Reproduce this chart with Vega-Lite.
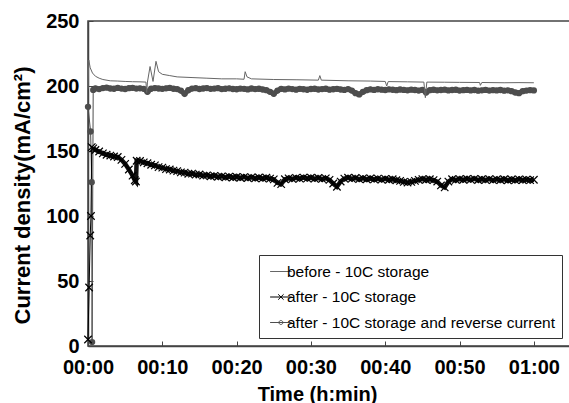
{
  "$schema": "https://vega.github.io/schema/vega-lite/v6.json",
  "width": 483,
  "height": 325,
  "autosize": {"type": "none"},
  "padding": {"left": 88, "top": 21, "right": 0, "bottom": 57},
  "config": {
    "font": "Liberation Sans",
    "view": {"stroke": "#444444", "strokeWidth": 1.5},
    "axis": {"grid": false}
  },
  "data": {"values": [
    {"s":"A","t":0,"v":198},{"s":"A","t":0.1,"v":220},{"s":"A","t":0.3,"v":214},{"s":"A","t":0.6,"v":210},{"s":"A","t":1,"v":207.5},{"s":"A","t":1.5,"v":206},{"s":"A","t":2,"v":205},{"s":"A","t":3,"v":204},{"s":"A","t":4,"v":203.8},{"s":"A","t":5,"v":203.5},{"s":"A","t":6,"v":203.3},{"s":"A","t":7,"v":203.2},{"s":"A","t":7.8,"v":203},{"s":"A","t":7.9,"v":195},{"s":"A","t":8.0,"v":203},{"s":"A","t":8.35,"v":215},{"s":"A","t":8.75,"v":203.5},{"s":"A","t":9.15,"v":219},{"s":"A","t":9.5,"v":211},{"s":"A","t":10,"v":209},{"s":"A","t":11,"v":208},{"s":"A","t":12,"v":207},{"s":"A","t":14,"v":206.5},{"s":"A","t":16,"v":206},{"s":"A","t":18,"v":205.5},{"s":"A","t":20,"v":205.5},{"s":"A","t":21,"v":205.2},{"s":"A","t":21.15,"v":211},{"s":"A","t":21.4,"v":207},{"s":"A","t":22,"v":205.5},{"s":"A","t":25,"v":205},{"s":"A","t":28,"v":204.8},{"s":"A","t":31,"v":204.5},{"s":"A","t":31.2,"v":208},{"s":"A","t":31.4,"v":204.5},{"s":"A","t":35,"v":204},{"s":"A","t":38,"v":203.8},{"s":"A","t":40,"v":203.5},{"s":"A","t":40.2,"v":200},{"s":"A","t":40.4,"v":203.4},{"s":"A","t":43,"v":203.2},{"s":"A","t":45.2,"v":203},{"s":"A","t":45.4,"v":191},{"s":"A","t":45.6,"v":203},{"s":"A","t":48,"v":202.9},{"s":"A","t":50,"v":202.8},{"s":"A","t":52.7,"v":202.7},{"s":"A","t":52.8,"v":200.5},{"s":"A","t":53,"v":202.7},{"s":"A","t":56,"v":202.5},{"s":"A","t":58,"v":202.6},{"s":"A","t":60,"v":202.5},
    {"s":"B","t":0,"v":5},{"s":"B","t":0.15,"v":45},{"s":"B","t":0.3,"v":85},{"s":"B","t":0.4,"v":100},{"s":"B","t":0.5,"v":153},{"s":"B","t":0.7,"v":152},{"s":"B","t":1,"v":150.8},{"s":"B","t":1.5,"v":149.6},{"s":"B","t":2,"v":148.2},{"s":"B","t":2.5,"v":147.1},{"s":"B","t":3,"v":146.5},{"s":"B","t":3.5,"v":145.8},{"s":"B","t":4,"v":145.4},{"s":"B","t":4.5,"v":143.2},{"s":"B","t":5,"v":140.1},{"s":"B","t":5.5,"v":135.8},{"s":"B","t":6,"v":131.0},{"s":"B","t":6.3,"v":127.5},{"s":"B","t":6.45,"v":126.5},{"s":"B","t":6.55,"v":142.5},
    {"s":"B","t":7,"v":142.3},{"s":"B","t":7.5,"v":141.2},{"s":"B","t":8,"v":140.6},{"s":"B","t":8.5,"v":139.4},{"s":"B","t":9,"v":138.9},{"s":"B","t":9.5,"v":137.6},{"s":"B","t":10,"v":137.2},{"s":"B","t":10.5,"v":136.1},{"s":"B","t":11,"v":135.8},{"s":"B","t":11.5,"v":134.9},{"s":"B","t":12,"v":134.5},{"s":"B","t":12.5,"v":133.6},{"s":"B","t":13,"v":133.4},{"s":"B","t":13.5,"v":132.5},{"s":"B","t":14,"v":132.6},{"s":"B","t":14.5,"v":131.8},{"s":"B","t":15,"v":131.9},{"s":"B","t":15.5,"v":131.1},{"s":"B","t":16,"v":131.3},{"s":"B","t":16.5,"v":130.6},{"s":"B","t":17,"v":130.9},{"s":"B","t":17.5,"v":130.2},{"s":"B","t":18,"v":130.5},{"s":"B","t":18.5,"v":129.8},{"s":"B","t":19,"v":130.3},{"s":"B","t":19.5,"v":129.6},{"s":"B","t":20,"v":130.0},{"s":"B","t":20.5,"v":129.4},{"s":"B","t":21,"v":129.9},{"s":"B","t":21.5,"v":129.2},{"s":"B","t":22,"v":129.7},{"s":"B","t":22.5,"v":129.0},{"s":"B","t":23,"v":129.6},{"s":"B","t":23.5,"v":128.9},{"s":"B","t":24,"v":129.4},{"s":"B","t":24.5,"v":128.7},{"s":"B","t":25,"v":128.2},{"s":"B","t":25.5,"v":125.5},{"s":"B","t":26,"v":124.5},{"s":"B","t":26.5,"v":128.3},{"s":"B","t":27,"v":129.0},{"s":"B","t":27.5,"v":128.6},{"s":"B","t":28,"v":129.3},{"s":"B","t":28.5,"v":128.8},{"s":"B","t":29,"v":129.5},{"s":"B","t":29.5,"v":128.9},{"s":"B","t":30,"v":129.4},{"s":"B","t":30.5,"v":128.7},{"s":"B","t":31,"v":129.2},{"s":"B","t":31.5,"v":128.5},{"s":"B","t":32,"v":129.0},{"s":"B","t":32.5,"v":127.8},{"s":"B","t":33,"v":125.0},{"s":"B","t":33.5,"v":122.5},{"s":"B","t":34,"v":126.5},{"s":"B","t":34.5,"v":128.8},{"s":"B","t":35,"v":129.4},{"s":"B","t":35.5,"v":128.7},{"s":"B","t":36,"v":129.2},{"s":"B","t":36.5,"v":128.4},{"s":"B","t":37,"v":129.0},{"s":"B","t":37.5,"v":128.3},{"s":"B","t":38,"v":128.9},{"s":"B","t":38.5,"v":128.2},{"s":"B","t":39,"v":128.7},{"s":"B","t":39.5,"v":128.0},{"s":"B","t":40,"v":128.6},{"s":"B","t":40.5,"v":127.9},{"s":"B","t":41,"v":128.3},{"s":"B","t":41.5,"v":127.5},{"s":"B","t":42,"v":127.0},{"s":"B","t":42.5,"v":126.3},{"s":"B","t":43,"v":125.8},{"s":"B","t":43.5,"v":126.2},{"s":"B","t":44,"v":127.0},{"s":"B","t":44.5,"v":127.8},{"s":"B","t":45,"v":128.4},{"s":"B","t":45.5,"v":127.9},{"s":"B","t":46,"v":128.3},{"s":"B","t":46.5,"v":127.6},{"s":"B","t":47,"v":126.5},{"s":"B","t":47.5,"v":123.5},{"s":"B","t":48,"v":122.0},{"s":"B","t":48.5,"v":126.5},{"s":"B","t":49,"v":128.3},{"s":"B","t":49.5,"v":127.8},{"s":"B","t":50,"v":128.4},{"s":"B","t":50.5,"v":127.9},{"s":"B","t":51,"v":128.5},{"s":"B","t":51.5,"v":128.0},{"s":"B","t":52,"v":128.6},{"s":"B","t":52.5,"v":127.7},{"s":"B","t":53,"v":128.3},{"s":"B","t":53.5,"v":127.8},{"s":"B","t":54,"v":128.4},{"s":"B","t":54.5,"v":127.6},{"s":"B","t":55,"v":128.2},{"s":"B","t":55.5,"v":127.7},{"s":"B","t":56,"v":128.3},{"s":"B","t":56.5,"v":127.5},{"s":"B","t":57,"v":128.1},{"s":"B","t":57.5,"v":127.6},{"s":"B","t":58,"v":128.2},{"s":"B","t":58.5,"v":127.7},{"s":"B","t":59,"v":128.0},{"s":"B","t":59.5,"v":127.6},{"s":"B","t":60,"v":127.9},
    {"s":"C","t":0,"v":184},{"s":"C","t":0.35,"v":165},{"s":"C","t":0.5,"v":126},{"s":"C","t":0.55,"v":3},{"s":"C","t":0.7,"v":197},
    {"s":"C","t":1,"v":198.2},{"s":"C","t":1.5,"v":197.6},{"s":"C","t":2,"v":198.4},{"s":"C","t":2.5,"v":198.8},{"s":"C","t":3,"v":198.1},{"s":"C","t":3.5,"v":197.9},{"s":"C","t":4,"v":198.5},{"s":"C","t":4.5,"v":198.0},{"s":"C","t":5,"v":197.7},{"s":"C","t":5.5,"v":198.3},{"s":"C","t":6,"v":198.6},{"s":"C","t":6.5,"v":198.0},{"s":"C","t":7,"v":198.2},{"s":"C","t":7.5,"v":197.8},{"s":"C","t":8,"v":195.5},{"s":"C","t":8.5,"v":197.9},{"s":"C","t":9,"v":198.4},{"s":"C","t":9.5,"v":198.1},{"s":"C","t":10,"v":197.8},{"s":"C","t":10.5,"v":198.2},{"s":"C","t":11,"v":198.5},{"s":"C","t":11.5,"v":197.9},{"s":"C","t":12,"v":197.6},{"s":"C","t":12.5,"v":196.5},{"s":"C","t":13,"v":194.0},{"s":"C","t":13.5,"v":196.8},{"s":"C","t":14,"v":198.0},{"s":"C","t":14.5,"v":198.3},{"s":"C","t":15,"v":197.7},{"s":"C","t":15.5,"v":198.1},{"s":"C","t":16,"v":198.4},{"s":"C","t":16.5,"v":197.8},{"s":"C","t":17,"v":198.0},{"s":"C","t":17.5,"v":198.3},{"s":"C","t":18,"v":197.6},{"s":"C","t":18.5,"v":197.9},{"s":"C","t":19,"v":198.2},{"s":"C","t":19.5,"v":197.7},{"s":"C","t":20,"v":197.5},{"s":"C","t":20.5,"v":198.0},{"s":"C","t":21,"v":197.8},{"s":"C","t":21.5,"v":197.4},{"s":"C","t":22,"v":198.1},{"s":"C","t":22.5,"v":197.6},{"s":"C","t":23,"v":197.9},{"s":"C","t":23.5,"v":197.3},{"s":"C","t":24,"v":196.8},{"s":"C","t":24.5,"v":195.5},{"s":"C","t":25,"v":194.0},{"s":"C","t":25.5,"v":196.5},{"s":"C","t":26,"v":197.8},{"s":"C","t":26.5,"v":197.4},{"s":"C","t":27,"v":198.0},{"s":"C","t":27.5,"v":197.6},{"s":"C","t":28,"v":197.2},{"s":"C","t":28.5,"v":197.8},{"s":"C","t":29,"v":197.5},{"s":"C","t":29.5,"v":197.1},{"s":"C","t":30,"v":197.7},{"s":"C","t":30.5,"v":197.9},{"s":"C","t":31,"v":197.3},{"s":"C","t":31.5,"v":197.6},{"s":"C","t":32,"v":197.9},{"s":"C","t":32.5,"v":197.2},{"s":"C","t":33,"v":197.5},{"s":"C","t":33.5,"v":197.8},{"s":"C","t":34,"v":197.3},{"s":"C","t":34.5,"v":197.0},{"s":"C","t":35,"v":197.6},{"s":"C","t":35.5,"v":196.5},{"s":"C","t":36,"v":194.5},{"s":"C","t":36.5,"v":193.5},{"s":"C","t":37,"v":195.5},{"s":"C","t":37.5,"v":196.8},{"s":"C","t":38,"v":197.4},{"s":"C","t":38.5,"v":197.0},{"s":"C","t":39,"v":197.5},{"s":"C","t":39.5,"v":197.2},{"s":"C","t":40,"v":196.9},{"s":"C","t":40.5,"v":197.4},{"s":"C","t":41,"v":197.1},{"s":"C","t":41.5,"v":196.8},{"s":"C","t":42,"v":197.3},{"s":"C","t":42.5,"v":197.0},{"s":"C","t":43,"v":196.7},{"s":"C","t":43.5,"v":197.2},{"s":"C","t":44,"v":196.9},{"s":"C","t":44.5,"v":196.5},{"s":"C","t":45,"v":197.0},{"s":"C","t":45.5,"v":195.0},{"s":"C","t":46,"v":196.8},{"s":"C","t":46.5,"v":197.1},{"s":"C","t":47,"v":196.7},{"s":"C","t":47.5,"v":196.9},{"s":"C","t":48,"v":197.2},{"s":"C","t":48.5,"v":196.6},{"s":"C","t":49,"v":196.9},{"s":"C","t":49.5,"v":197.1},{"s":"C","t":50,"v":196.5},{"s":"C","t":50.5,"v":196.8},{"s":"C","t":51,"v":197.0},{"s":"C","t":51.5,"v":196.6},{"s":"C","t":52,"v":196.9},{"s":"C","t":52.5,"v":196.4},{"s":"C","t":53,"v":196.7},{"s":"C","t":53.5,"v":197.0},{"s":"C","t":54,"v":196.5},{"s":"C","t":54.5,"v":196.8},{"s":"C","t":55,"v":196.6},{"s":"C","t":55.5,"v":196.9},{"s":"C","t":56,"v":196.4},{"s":"C","t":56.5,"v":196.7},{"s":"C","t":57,"v":196.0},{"s":"C","t":57.5,"v":195.0},{"s":"C","t":58,"v":194.5},{"s":"C","t":58.5,"v":196.0},{"s":"C","t":59,"v":196.5},{"s":"C","t":59.5,"v":196.8},{"s":"C","t":60,"v":196.6}
  ]},
  "encoding": {
    "x": {
      "field": "t", "type": "quantitative",
      "scale": {"domain": [0, 65], "nice": false, "zero": false},
      "axis": {
        "values": [0, 10, 20, 30, 40, 50, 60],
        "labelExpr": "datum.value == 60 ? '01:00' : '00:' + (datum.value < 10 ? '0' : '') + datum.value",
        "labelFontSize": 20, "labelFontWeight": "bold", "labelColor": "#000000",
        "tickSize": -5, "tickColor": "#444444", "domainColor": "#444444", "domainWidth": 1.5,
        "labelPadding": 16, "labelFlush": false,
        "title": "Time (h:min)", "titleFontSize": 20, "titleFontWeight": "bold", "titleColor": "#000000",
        "titlePadding": 7, "titleX": 229, "titleAnchor": "start", "titleAlign": "center"
      }
    },
    "y": {
      "field": "v", "type": "quantitative",
      "scale": {"domain": [0, 250], "nice": false},
      "axis": {
        "values": [0, 50, 100, 150, 200, 250],
        "labelFontSize": 20, "labelFontWeight": "bold", "labelColor": "#000000",
        "tickSize": -5, "tickColor": "#444444", "domainColor": "#444444", "domainWidth": 1.5,
        "labelPadding": 14, "labelFlush": false,
        "title": "Current density(mA/cm²)", "titleFontSize": 22, "titleFontWeight": "bold", "titleColor": "#000000",
        "titlePadding": 11, "titleY": 174, "titleAnchor": "start", "titleAlign": "center"
      }
    }
  },
  "layer": [
    {
      "transform": [{"filter": "datum.s == 'C'"}],
      "mark": {"type": "line", "strokeWidth": 1, "color": "#4d4d4d"}
    },
    {
      "transform": [{"filter": "datum.s == 'B'"}],
      "mark": {"type": "line", "strokeWidth": 1, "color": "#000000"}
    },
    {
      "transform": [{"filter": "datum.s == 'C' && datum.t >= 0.7"}],
      "mark": {"type": "line", "strokeWidth": 5, "color": "#4d4d4d"}
    },
    {
      "transform": [{"filter": "datum.s == 'B' && datum.t >= 0.7"}],
      "mark": {"type": "line", "strokeWidth": 4.5, "color": "#111111"}
    },
    {
      "transform": [{"filter": "datum.s == 'C'"}],
      "mark": {"type": "point", "shape": "circle", "filled": true, "size": 40, "color": "#4d4d4d", "opacity": 1}
    },
    {
      "transform": [{"filter": "datum.s == 'B'"}],
      "mark": {"type": "point", "shape": "M-1,-1L1,1M-1,1L1,-1", "filled": false, "size": 56, "color": "#000000", "strokeWidth": 1.2, "opacity": 1}
    },
    {
      "transform": [{"filter": "datum.s == 'A'"}],
      "mark": {"type": "line", "strokeWidth": 1, "color": "#666666"}
    },
    {
      "mark": {"type": "point", "filled": false, "opacity": 0},
      "encoding": {
        "color": {
          "field": "s", "type": "nominal",
          "scale": {"domain": ["A", "B", "C"], "range": ["#666666", "#000000", "#4d4d4d"]},
          "legend": {
            "orient": "none", "legendX": 171, "legendY": 234, "title": null,
            "labelExpr": "datum.label == 'A' ? 'before - 10C storage' : datum.label == 'B' ? 'after - 10C storage' : 'after - 10C storage and reverse current'",
            "labelFontSize": 15.5, "labelColor": "#000000", "labelFont": "Liberation Sans", "labelLimit": 400,
            "symbolSize": 324, "symbolStrokeWidth": 1, "symbolOpacity": 1, "symbolFillColor": "#4d4d4d",
            "strokeColor": "#333333", "fillColor": "#ffffff", "padding": 7, "rowPadding": 7.5, "labelOffset": 2
          }
        },
        "shape": {
          "field": "s", "type": "nominal",
          "scale": {"domain": ["A", "B", "C"], "range": ["M-0.6,0L1.8,0", "M-0.6,0L1.8,0M0.3,-0.3L0.9,0.3M0.3,0.3L0.9,-0.3", "M-0.6,0L1.8,0M0.38,0A0.22,0.22 0 1,0 0.82,0A0.22,0.22 0 1,0 0.38,0Z"]},
          "legend": {
            "orient": "none", "legendX": 171, "legendY": 234, "title": null,
            "labelExpr": "datum.label == 'A' ? 'before - 10C storage' : datum.label == 'B' ? 'after - 10C storage' : 'after - 10C storage and reverse current'",
            "labelFontSize": 15.5, "labelColor": "#000000", "labelFont": "Liberation Sans", "labelLimit": 400,
            "symbolSize": 324, "symbolStrokeWidth": 1, "symbolOpacity": 1, "symbolFillColor": "#4d4d4d",
            "strokeColor": "#333333", "fillColor": "#ffffff", "padding": 7, "rowPadding": 7.5, "labelOffset": 2
          }
        }
      }
    }
  ]
}
